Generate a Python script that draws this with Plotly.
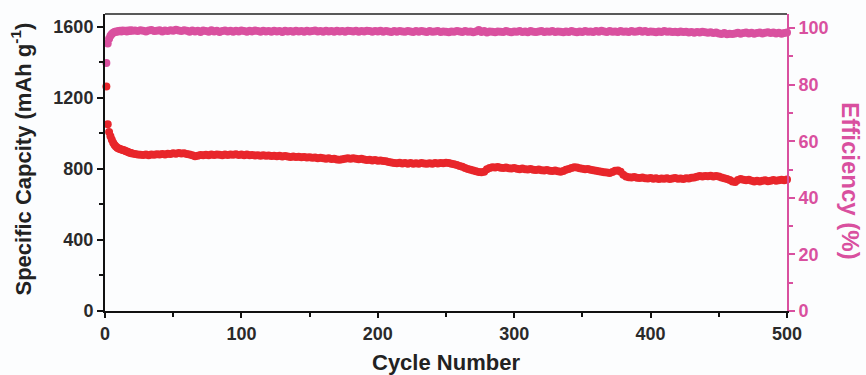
import plotly.graph_objects as go

cycles = list(range(1, 21)) + list(range(22, 501, 2))

capacity = [
    1265, 1052, 1008, 985, 965, 948, 935, 926, 920, 915, 912, 910, 907, 905, 901, 898, 895, 892, 890, 887,
    # 22-100
    885, 882, 880, 879, 881, 878, 882, 880, 883, 881, 884, 882, 886, 884, 888, 886, 890, 887, 889, 885,
    882, 878, 872, 875, 879, 877, 880, 878, 881, 879, 882, 880, 878, 881, 879, 882, 880, 883, 879, 881,
    # 102-200
    878, 881, 877, 879, 876, 878, 875, 877, 874, 876, 873, 875, 872, 874, 871, 873, 870, 868, 871, 867,
    869, 866, 868, 864, 866, 863, 865, 861, 863, 860, 858, 861, 856, 858, 854, 852, 855, 857, 860, 858,
    861, 857, 855, 858, 853, 850, 852, 848, 850, 846,
    # 202-260
    848, 845, 843, 840, 836, 834, 832, 835, 831, 834, 830, 833, 829, 832, 830, 833, 831, 829, 832, 830,
    833, 831, 834, 832, 835, 833, 830, 826, 822, 817,
    # 262-300
    812, 806, 800, 796, 791, 787, 783, 781, 785, 798, 806, 810, 808, 811, 807, 805, 808, 804, 802, 805,
    # 302-340
    801, 798, 802, 799, 797, 800, 796, 794, 797, 793, 791, 794, 790, 788, 791, 787, 785, 789, 795, 800,
    # 342-380
    806, 810, 808, 804, 801, 798, 800, 796, 793, 790, 787, 785, 782, 780, 778, 783, 790, 792, 785, 768,
    # 382-440
    758, 754, 752, 755, 751, 749, 752, 748, 746, 749, 745, 748, 744, 747, 745, 748, 744, 746, 749, 745,
    747, 744, 748, 746, 750, 752, 756, 760, 758, 761,
    # 442-500
    759, 762, 758, 760, 757, 752, 748, 744, 738, 730, 726, 738, 744, 740, 736, 739, 734, 730, 733, 729,
    733, 736, 731, 734, 738, 733, 736, 740, 737, 741,
]

efficiency = [
    87.6, 94.5, 96.2, 97.3, 97.9, 98.3, 98.6, 98.8, 98.7, 98.9, 99.0, 98.8, 99.1, 98.9, 99.0, 98.8, 99.1, 98.9, 99.2, 99.0,
    99.1, 98.9, 99.2, 99.0, 98.8, 99.1, 99.3, 98.9, 99.0, 99.2, 98.8, 99.1, 98.9, 99.2, 99.0, 99.4, 99.1, 98.9, 99.2, 99.0,
    98.7, 99.1, 98.8, 99.0, 98.6, 99.1, 98.9, 98.7, 99.2, 98.8, 99.0, 98.6, 98.9, 99.1, 98.8, 99.0, 98.7, 99.0, 98.8, 99.1,
    98.9, 98.7, 99.0, 98.8, 99.1, 98.9, 98.7, 99.0, 98.8, 98.9, 98.7, 99.0, 98.8, 98.9, 98.6, 99.0, 98.8, 98.9, 98.7, 99.0,
    98.8, 98.9, 98.7, 99.0, 98.8, 98.9, 99.1, 98.8, 98.9, 98.7, 99.0, 98.8, 98.9, 98.7, 99.0, 98.8, 98.9, 98.7, 99.0, 98.9,
    98.8, 99.0, 98.7, 98.9, 98.8, 99.0, 98.9, 98.7, 98.9, 98.8, 99.0, 98.7, 98.9, 98.8, 98.6, 98.9, 98.7, 98.9, 98.8, 98.7,
    98.9, 98.8, 98.6, 98.9, 98.7, 98.9, 98.8, 98.6, 98.9, 98.7, 98.8, 98.9, 98.6, 98.8, 98.7, 98.5, 98.8, 98.7, 98.9, 98.8,
    98.6, 98.9, 98.7, 98.8, 98.5, 98.8, 99.3, 98.6, 98.9, 98.4, 98.8, 98.7, 98.5, 98.8, 98.7, 98.6, 98.9, 98.7, 98.5, 98.8,
    98.7, 98.9, 98.6, 98.8, 98.5, 98.9, 98.7, 98.6, 98.8, 98.9, 98.6, 98.8, 98.7, 98.9, 98.6, 98.8, 98.7, 98.5, 98.8, 98.6,
    98.9, 98.7, 98.5, 98.8, 98.6, 98.9, 98.7, 98.8, 98.6, 98.9, 98.7, 99.0, 98.8, 98.6, 98.9, 98.7, 98.8, 98.6, 98.9, 98.7,
    98.8, 98.6, 98.9, 98.7, 98.8, 99.0, 98.7, 98.9, 98.6, 98.8, 98.7, 98.5, 98.8, 98.6, 98.9, 98.7, 98.8, 98.6, 98.7, 98.5,
    98.8, 98.6, 98.7, 98.4, 98.6, 98.3, 98.6, 98.4, 98.7, 98.5, 98.3, 98.5, 98.2, 98.4, 98.1, 97.9, 98.2, 97.8, 98.0, 97.9,
    98.1, 98.3, 98.0, 98.2, 98.4, 98.1, 98.3, 98.0, 98.2, 98.4, 98.1, 98.3, 98.5, 98.2, 98.4, 98.1, 98.3, 98.0, 98.2, 98.4,
]

x_ticks = [0, 100, 200, 300, 400, 500]
cap_ticks = [0, 400, 800, 1200, 1600]
eff_ticks = [0, 20, 40, 60, 80, 100]

RED = "#e8262b"
PINK = "#d9509f"
FONT = "Liberation Sans"
BG = "#fcfdfe"

fig = go.Figure()
fig.add_trace(go.Scatter(x=cycles, y=efficiency, mode="markers", yaxis="y2",
                         marker=dict(color=PINK, size=8), cliponaxis=False, showlegend=False))
fig.add_trace(go.Scatter(x=cycles, y=capacity, mode="markers",
                         marker=dict(color=RED, size=8), cliponaxis=False, showlegend=False))

tickfont = dict(family=FONT, size=18, color="#2a2a2a", weight="bold")

fig.update_layout(
    width=866, height=375,
    margin=dict(l=105, r=79, t=14, b=64),
    paper_bgcolor=BG, plot_bgcolor=BG,
    xaxis=dict(range=[0, 500], tickvals=x_ticks, showgrid=False, zeroline=False,
               showline=True, linecolor="#111", linewidth=2,
               ticks="outside", ticklen=5, tickwidth=2, tickcolor="#111",
               minor=dict(dtick=50, ticks="outside", ticklen=4, tickwidth=2, tickcolor="#111"),
               tickfont=tickfont),
    yaxis=dict(range=[0, 1673], tickvals=cap_ticks, showgrid=False, zeroline=False,
               showline=True, linecolor="#111", linewidth=2,
               ticks="outside", ticklen=6, tickwidth=2, tickcolor="#111",
               minor=dict(dtick=200, ticks="outside", ticklen=4, tickwidth=2, tickcolor="#111"),
               tickfont=tickfont),
    yaxis2=dict(range=[0, 104.95], tickvals=eff_ticks, overlaying="y", side="right",
                showgrid=False, zeroline=False,
                showline=True, linecolor=PINK, linewidth=2,
                ticks="outside", ticklen=6, tickwidth=2, tickcolor=PINK,
                minor=dict(dtick=10, ticks="outside", ticklen=4, tickwidth=2, tickcolor=PINK),
                tickfont=dict(family=FONT, size=18, color=PINK, weight="bold")),
    shapes=[dict(type="line", xref="paper", yref="paper", x0=0, x1=1, y0=1, y1=1,
                 line=dict(color="#222", width=1.5))],
    annotations=[
        dict(text="Cycle Number", xref="paper", yref="paper", x=0.5, y=0, yshift=-51,
             showarrow=False, font=dict(family=FONT, size=22, color="#222", weight="bold"),
             xanchor="center", yanchor="middle"),
        dict(text="Specific Capcity (mAh g<sup>-1</sup>)", xref="paper", yref="paper",
             x=0, xshift=-84, y=0.51, textangle=-90, showarrow=False,
             font=dict(family=FONT, size=22, color="#222", weight="bold"),
             xanchor="center", yanchor="middle"),
        dict(text="Efficiency (%)", xref="paper", yref="paper",
             x=1, xshift=64, y=0.44, textangle=90, showarrow=False,
             font=dict(family=FONT, size=24, color=PINK, weight="bold"),
             xanchor="center", yanchor="middle"),
    ],
)

fig.write_html("out.html", config={"displayModeBar": False},
               post_script="document.body.style.margin='0';document.body.style.overflow='hidden';document.body.style.background='" + BG + "';")
